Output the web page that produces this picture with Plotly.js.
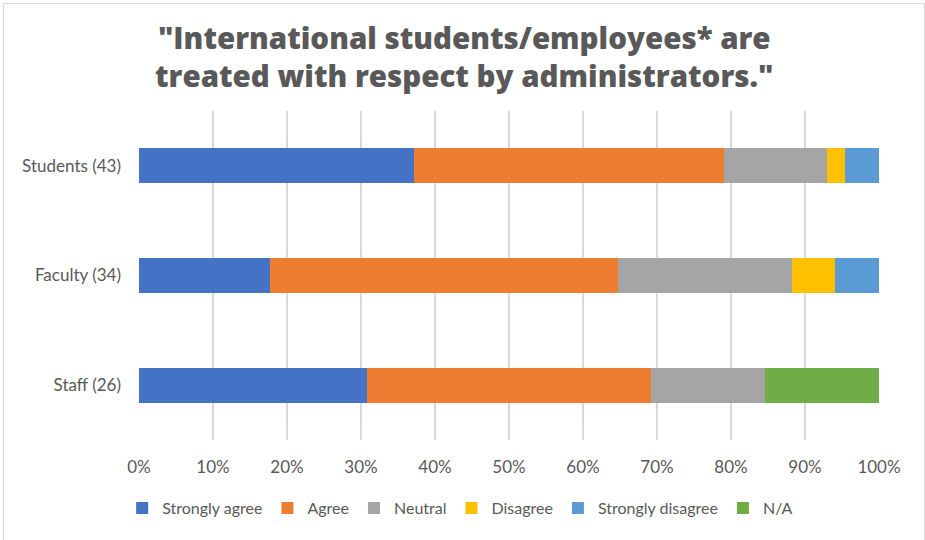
<!DOCTYPE html>
<html>
<head>
<meta charset="utf-8">
<script src="https://cdn.plot.ly/plotly-3.0.1.min.js"></script>
<style>
html,body{margin:0;padding:0;background:#fff;}
#chart{width:925px;height:540px;position:relative;}
#frame{position:absolute;left:3px;top:3px;width:920px;height:560px;border:1px solid #d9d9d9;pointer-events:none;}
</style>
</head>
<body>
<div id="chart"></div>
<div id="frame"></div>
<script>
const groups = ["Students (43)", "Faculty (34)", "Staff (26)"];
const totals = [43, 34, 26];
const seriesNames = ["Strongly agree", "Agree", "Neutral", "Disagree", "Strongly disagree", "N/A"];
const stronglyAgree = [16, 6, 8];
const agree = [18, 16, 10];
const neutral = [6, 8, 4];
const disagree = [1, 2, 0];
const stronglyDisagree = [2, 2, 0];
const notApplicable = [0, 0, 4];
const colors = ["#4472C4", "#ED7D31", "#A5A5A5", "#FFC000", "#5B9BD5", "#70AD47"];
const xTicks = [0, 0.1, 0.2, 0.3, 0.4, 0.5, 0.6, 0.7, 0.8, 0.9, 1.0];
const xTickLabels = ["0%", "10%", "20%", "30%", "40%", "50%", "60%", "70%", "80%", "90%", "100%"];
const titleLines = ["\"International students/employees* are", "treated with respect by administrators.\""];

const allSeries = [stronglyAgree, agree, neutral, disagree, stronglyDisagree, notApplicable];
const traces = allSeries.map((vals, i) => ({
  type: "bar",
  orientation: "h",
  name: seriesNames[i],
  y: groups,
  x: vals.map((v, j) => v / totals[j]),
  marker: {color: colors[i], line: {width: 0}},
  hoverinfo: "skip"
}));

const font = {family: "Lato, 'Open Sans', sans-serif", size: 17, color: "#595959"};
const titleFont = {family: "'Open Sans', Lato, sans-serif", size: 29.5, color: "#595959", weight: 800};

const layout = {
  width: 925, height: 540,
  margin: {l: 139, r: 46, t: 111, b: 100},
  barmode: "stack",
  bargap: 0.68,
  paper_bgcolor: "#fff",
  plot_bgcolor: "#fff",
  font: font,
  showlegend: true,
  annotations: [{
    text: titleLines.join("<br>"),
    xref: "paper", yref: "paper",
    x: 0.44, xanchor: "center",
    y: 1.167, yanchor: "middle",
    showarrow: false,
    align: "center",
    font: titleFont
  }],
  xaxis: {
    range: [0, 1],
    tickvals: xTicks,
    ticktext: xTickLabels,
    showgrid: true,
    gridcolor: "#d9d9d9",
    gridwidth: 2,
    zeroline: false,
    showline: false,
    ticks: "",
    ticklabelstandoff: 15,
    tickfont: font,
    fixedrange: true
  },
  yaxis: {
    categoryorder: "array",
    categoryarray: groups.slice().reverse(),
    showgrid: false,
    zeroline: false,
    showline: false,
    ticks: "",
    ticklabelstandoff: 17,
    tickfont: font,
    fixedrange: true
  },
  legend: {
    orientation: "h",
    x: 0.434, xanchor: "center",
    y: -0.207, yanchor: "middle",
    font: {family: "Lato, 'Open Sans', sans-serif", size: 16, color: "#595959"},
    traceorder: "normal",
    itemwidth: 30
  }
};

Plotly.newPlot("chart", traces, layout, {displayModeBar: false, staticPlot: true});
</script>
</body>
</html>
